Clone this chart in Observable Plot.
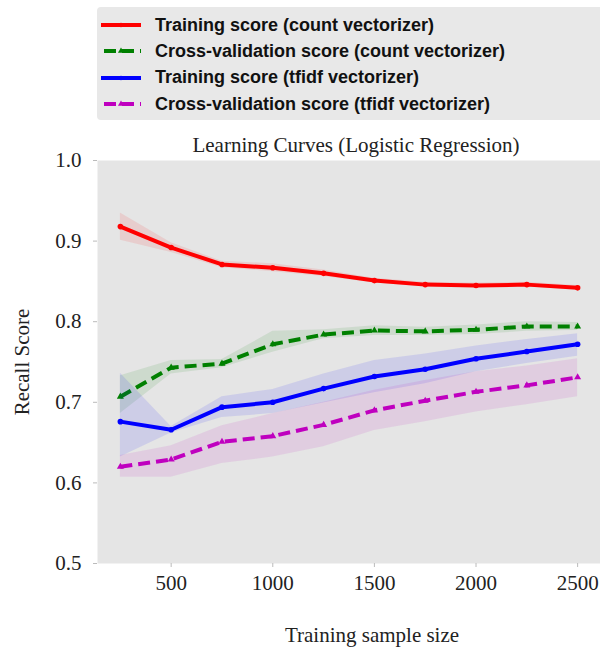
<!DOCTYPE html>
<html>
<head>
<meta charset="utf-8">
<script src="https://cdn.jsdelivr.net/npm/d3@7"></script>
<script src="https://cdn.jsdelivr.net/npm/@observablehq/plot@0.6"></script>
<style>
  html, body { margin: 0; padding: 0; background: #fff; }
  #wrap { position: relative; width: 600px; height: 650px; overflow: hidden; }
  #legend { position: absolute; left: 97px; top: 7px; width: 510px; height: 113px; background: #e8e8e8; border-radius: 4px; box-sizing: border-box; padding-top: 5px; }
  .row { display: flex; align-items: center; height: 26.3px; font-family: "Liberation Sans", Arial, sans-serif; font-weight: bold; font-size: 18px; color: #111; }
  .row svg { margin-left: 4px; margin-right: 14px; }
  .serif { position: absolute; font-family: "Liberation Serif", "Times New Roman", serif; color: #222; white-space: nowrap; }
  #chart { position: absolute; left: 0; top: 0; }
</style>
</head>
<body>
<div id="wrap">
  <div id="chart"></div>
  <div id="legend"></div>
  <div class="serif" id="title" style="left:356px;top:145px;font-size:21px;transform:translate(-50%,-50%);">Learning Curves (Logistic Regression)</div>
  <div class="serif" id="ylab" style="left:22px;top:362px;font-size:21px;transform:translate(-50%,-50%) rotate(-90deg);">Recall Score</div>
  <div class="serif" id="xlab" style="left:372px;top:635px;font-size:21px;transform:translate(-50%,-50%);">Training sample size</div>
</div>
<script>
const sizes = [250, 500, 750, 1000, 1250, 1500, 1750, 2000, 2250, 2500];

const trainCount   = [0.918, 0.892, 0.871, 0.867, 0.860, 0.851, 0.846, 0.845, 0.846, 0.842];
const trainCountLo = [0.901, 0.886, 0.867, 0.862, 0.856, 0.848, 0.843, 0.842, 0.843, 0.839];
const trainCountHi = [0.935, 0.898, 0.875, 0.872, 0.864, 0.854, 0.849, 0.848, 0.849, 0.845];

const cvCount   = [0.707, 0.743, 0.748, 0.772, 0.784, 0.789, 0.788, 0.790, 0.794, 0.794];
const cvCountLo = [0.686, 0.735, 0.743, 0.762, 0.779, 0.783, 0.783, 0.784, 0.788, 0.789];
const cvCountHi = [0.733, 0.752, 0.753, 0.788, 0.790, 0.795, 0.793, 0.796, 0.800, 0.799];

const trainTfidf   = [0.676, 0.666, 0.694, 0.700, 0.717, 0.732, 0.741, 0.754, 0.763, 0.772];
const trainTfidfLo = [0.632, 0.662, 0.681, 0.686, 0.699, 0.712, 0.723, 0.738, 0.748, 0.757];
const trainTfidfHi = [0.736, 0.670, 0.707, 0.716, 0.735, 0.752, 0.760, 0.770, 0.778, 0.785];

const cvTfidf   = [0.620, 0.629, 0.651, 0.658, 0.672, 0.690, 0.702, 0.713, 0.721, 0.731];
const cvTfidfLo = [0.607, 0.607, 0.624, 0.632, 0.645, 0.665, 0.676, 0.688, 0.697, 0.707];
const cvTfidfHi = [0.634, 0.646, 0.671, 0.686, 0.700, 0.715, 0.727, 0.738, 0.745, 0.754];

const seriesNames = [
  "Training score (count vectorizer)",
  "Cross-validation score (count vectorizer)",
  "Training score (tfidf vectorizer)",
  "Cross-validation score (tfidf vectorizer)"
];
const seriesColors = ["#ff0000", "#008000", "#0000ff", "#bf00bf"];
const seriesDashed = [false, true, false, true];
const seriesMarker = ["circle", "triangle", "circle", "triangle"];
const xTicks = [500, 1000, 1500, 2000, 2500];
const yTicks = [0.5, 0.6, 0.7, 0.8, 0.9, 1.0];

const means = [trainCount, cvCount, trainTfidf, cvTfidf];
const los = [trainCountLo, cvCountLo, trainTfidfLo, cvTfidfLo];
const his = [trainCountHi, cvCountHi, trainTfidfHi, cvTfidfHi];

const rows = [];
seriesNames.forEach((name, s) => {
  sizes.forEach((n, i) => rows.push({series: name, s, n, y: means[s][i], lo: los[s][i], hi: his[s][i]}));
});

const marks = [Plot.frame({fill: "#e5e5e5", stroke: null})];
seriesNames.forEach((name, s) => {
  const d = rows.filter(r => r.s === s);
  marks.push(Plot.areaY(d, {x: "n", y1: "lo", y2: "hi", fill: seriesColors[s], fillOpacity: 0.1, curve: "linear"}));
  marks.push(Plot.line(d, {x: "n", y: "y", stroke: seriesColors[s], strokeWidth: 4, strokeDasharray: seriesDashed[s] ? "12,6" : null, strokeLinecap: "butt", strokeLinejoin: "round"}));
  marks.push(Plot.dot(d, {x: "n", y: "y", fill: seriesColors[s], stroke: null, symbol: seriesMarker[s], r: seriesMarker[s] === "circle" ? 2.8 : 2.6}));
});

const chart = Plot.plot({
  width: 600,
  height: 650,
  marginTop: 160,
  marginBottom: 87,
  marginLeft: 97,
  marginRight: 0,
  style: {background: "transparent", fontFamily: "'Liberation Serif', 'Times New Roman', serif", fontSize: "21px", color: "#222"},
  x: {domain: [137.5, 2612.5], ticks: xTicks, tickFormat: d3.format("d"), tickSize: 4, tickPadding: 8, label: null},
  y: {domain: [0.5, 1.0], ticks: yTicks, tickFormat: d3.format(".1f"), tickSize: 4, tickPadding: 10, label: null},
  marks: [
    ...marks,
    Plot.axisX({ticks: xTicks, tickFormat: d3.format("d"), tickSize: 4, tickPadding: 8, stroke: "#bbb", label: null, fontSize: 21}),
    Plot.axisY({ticks: yTicks, tickFormat: d3.format(".1f"), tickSize: 4, tickPadding: 12, stroke: "#bbb", label: null, fontSize: 21})
  ]
});
document.getElementById("chart").appendChild(chart);

// legend
const leg = d3.select("#legend");
seriesNames.forEach((name, s) => {
  const row = leg.append("div").attr("class", "row");
  const sv = row.append("svg").attr("width", 40).attr("height", 12);
  sv.append("line").attr("x1", 0).attr("x2", 40).attr("y1", 6).attr("y2", 6)
    .attr("stroke", seriesColors[s]).attr("stroke-width", 4)
    .attr("stroke-dasharray", seriesDashed[s] ? "12,6" : null)
    .attr("transform", seriesDashed[s] ? "translate(3,0)" : null);
  sv.append("path").attr("d", d3.symbol(seriesMarker[s] === "circle" ? d3.symbolCircle : d3.symbolTriangle, 16)())
    .attr("transform", "translate(20,6)").attr("fill", seriesColors[s]);
  row.append("span").text(name);
});
</script>
</body>
</html>
